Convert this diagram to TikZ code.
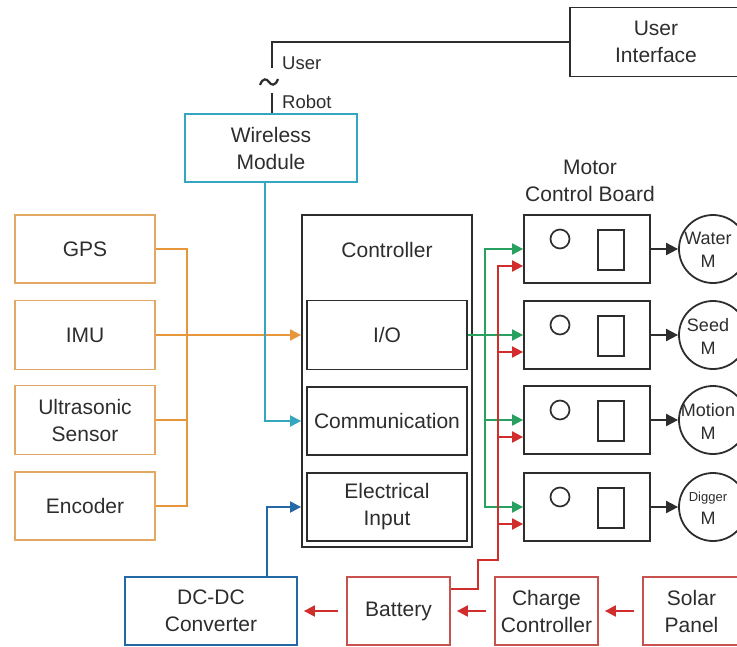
\documentclass[tikz,border=0pt]{standalone}
\usepackage{fontspec}
\setmainfont{Liberation Sans}
\usetikzlibrary{arrows.meta,calc}
\definecolor{orbox}{RGB}{226,168,100}
\definecolor{orline}{RGB}{232,150,60}
\definecolor{tealc}{RGB}{52,166,192}
\definecolor{bluec}{RGB}{36,104,165}
\definecolor{greenc}{RGB}{40,160,95}
\definecolor{redc}{RGB}{210,45,45}
\definecolor{redbox}{RGB}{200,82,80}
\definecolor{darkc}{RGB}{45,45,45}
\begin{document}
\begin{tikzpicture}[x=1pt,y=-1pt,
  txt/.style={font=\fontsize{21}{27}\selectfont, text=darkc},
  bx/.style={draw=#1, line width=1.8pt, inner sep=0pt, align=center, txt},
  bk/.style={bx=darkc},
  tip/.style={-{Triangle[length=11pt,width=11pt]}},
  conn/.style={line width=2pt, draw=#1},
  motor/.style={draw=darkc, line width=1.8pt, circle, minimum size=68pt, inner sep=0pt},
  mlbl/.style={align=center, font=\fontsize{18}{23}\selectfont, text=darkc, inner sep=0pt},
]
\useasboundingbox (0,0) rectangle (737,646);
% top
\node[bk, minimum width=172pt, minimum height=69pt] (ui) at (656,42) {User\\Interface};
\node[bx=tealc, minimum width=172pt, minimum height=68pt] (wm) at (271,148) {Wireless\\Module};
\coordinate (uend) at (272,68);
\coordinate (rbeg) at (272,93);
\draw[conn=darkc] (ui.west) -| (uend);
\draw[conn=darkc] (rbeg) -- (rbeg |- wm.north);
\draw[line width=2.2pt, darkc] (260,85) .. controls (263,77) and (267,79) .. (269,82) .. controls (271,85) and (275,87) .. (278,79);
\node[anchor=west, font=\fontsize{18.5}{22}\selectfont, text=darkc, inner sep=0pt] (ulbl) at (282,63) {User};
\node[anchor=west, font=\fontsize{18.5}{22}\selectfont, text=darkc, inner sep=0pt] (rlbl) at (282,102) {Robot};
% sensors
\node[bx=orbox, minimum width=140pt, minimum height=68pt] (gps) at (85,249) {GPS};
\node[bx=orbox, minimum width=140pt, minimum height=69pt] (imu) at (85,335) {IMU};
\node[bx=orbox, minimum width=140pt, minimum height=69pt] (ultra) at (85,420) {Ultrasonic\\Sensor};
\node[bx=orbox, minimum width=140pt, minimum height=68pt] (enc) at (85,506) {Encoder};
% controller
\node[bk, minimum width=170pt, minimum height=332pt] (ctrl) at (387,381) {};
\node[txt] (ctrllbl) at (387,250) {Controller};
\node[bk, minimum width=160pt, minimum height=69pt] (io) at (387,335) {I/O};
\node[bk, minimum width=160pt, minimum height=68pt] (comm) at (387,421) {Communication};
\node[bk, minimum width=160pt, minimum height=68pt] (elec) at (387,507) {Electrical\\Input};
% motor control boards
\node[txt, align=center] (mcblbl) at (590,181) {Motor\\Control Board};
\foreach \i/\y in {1/249,2/335,3/420,4/507}{
  \node[bk, minimum width=126pt, minimum height=68pt] (mcb\i) at (587,\y) {};
  \draw[line width=1.7pt, darkc] (560,\y-10) circle (9.5pt);
  \node[draw=darkc, line width=1.7pt, minimum width=26pt, minimum height=40pt, inner sep=0pt] (sw\i) at (611,\y+1) {};
  \node[motor] (m\i) at (713,\y) {};
}
\node[mlbl] (t1) at (708,250) {Water\\M};
\node[mlbl] (t2) at (708,336) {Seed\\M};
\node[mlbl] (t3) at (708,421) {Motion\\M};
\node[mlbl] (t4) at (708,508) {{\fontsize{13}{15}\selectfont Digger}\\M};
\foreach \i in {1,2,3,4}{
  \draw[conn=darkc, -{Triangle[length=12pt,width=12pt]}] (mcb\i.east) -- (m\i.west);
}
% bottom row
\node[bx=bluec, minimum width=172pt, minimum height=68pt] (dcdc) at (211,611) {DC-DC\\Converter};
\node[bx=redbox, minimum width=103pt, minimum height=68pt] (bat) at (398.5,611) {Battery};
\node[bx=redbox, minimum width=103pt, minimum height=68pt] (cc) at (546.5,611) {Charge\\Controller};
\node[bx=redbox, minimum width=97pt, minimum height=68pt] (sp) at (691.5,611) {Solar\\Panel};
\draw[conn=redc, tip, shorten <=8pt, shorten >=6pt] (sp.west) -- (cc.east);
\draw[conn=redc, tip, shorten <=8pt, shorten >=6pt] (cc.west) -- (bat.east);
\draw[conn=redc, tip, shorten <=8pt, shorten >=6pt] (bat.west) -- (dcdc.east);
% sensor connectors
\coordinate (ob) at (187,0);
\draw[conn=orline] (gps.east) -| (ob |- enc.east) -- (enc.east);
\draw[conn=orline] (ultra.east) -- (ob |- ultra.east);
\draw[conn=orline, tip] (imu.east) -- (ctrl.west |- imu.east);
% wireless to communication
\draw[conn=tealc, tip] ($(wm.south)+(-6,0)$) |- (ctrl.west |- comm.west);
% dc-dc to electrical input
\draw[conn=bluec, tip] ($(dcdc.north)+(56,0)$) |- (ctrl.west |- elec.west);
% green control lines
\coordinate (gb) at (485,0);
\draw[conn=greenc, tip] (gb |- mcb4.west) |- (mcb1.west);
\draw[conn=greenc, tip] (gb |- mcb1.west) |- (mcb4.west);
\draw[conn=greenc, tip] (io.east) -- (mcb2.west);
\draw[conn=greenc, tip] (gb |- mcb3.west) -- (mcb3.west);
% red power lines
\coordinate (rb) at (498,0);
\coordinate (rstep) at (478,560);
\coordinate (r1) at ($(mcb1.west)+(0,17)$);
\coordinate (r2) at ($(mcb2.west)+(0,17)$);
\coordinate (r3) at ($(mcb3.west)+(0,17)$);
\coordinate (r4) at ($(mcb4.west)+(0,17)$);
\draw[conn=redc, tip] ($(bat.north east)+(0,13)$) -| (rstep) -| (r1 -| rb) -- (r1);
\draw[conn=redc, tip] (r2 -| rb) -- (r2);
\draw[conn=redc, tip] (r3 -| rb) -- (r3);
\draw[conn=redc, tip] (r4 -| rb) -- (r4);
\end{tikzpicture}
\end{document}
